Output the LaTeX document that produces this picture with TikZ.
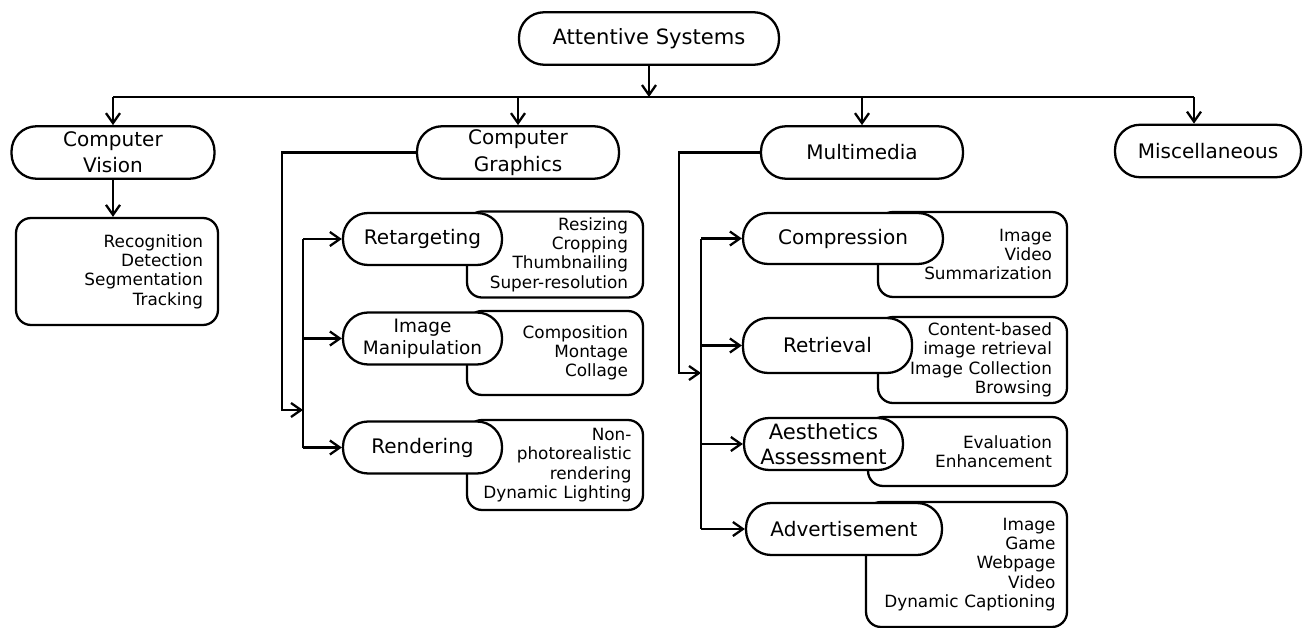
\documentclass[tikz,border=0pt]{standalone}
\usepackage{fontspec}
\setmainfont{DejaVu Sans}
\usetikzlibrary{arrows.meta}

\begin{document}
\begin{tikzpicture}[x=0.02cm, y=-0.02cm, line width=1.3pt,
    >={Straight Barb[length=2mm, width=2.8mm]},
    pill/.style={draw, fill=white, rounded corners=0.5cm, minimum height=1.05cm,
        inner sep=1pt, align=center, font=\fontsize{11.4}{14}\selectfont},
    listbox/.style={draw, rounded corners=0.3cm, inner xsep=0.3cm, text width=#1,
        align=right, font=\fontsize{9.6}{11}\selectfont}]
        \useasboundingbox (0,0) rectangle (1304,628);

        \node[pill, minimum width=5.2cm, font=\fontsize{12}{14}\selectfont] (root) at (649,38.5) {Attentive Systems};
        \node[pill, minimum width=4.06cm, font=\fontsize{11.4}{15}\selectfont] (cv) at (113,152.5) {Computer\\Vision};
        \node[pill, minimum width=4.04cm, font=\fontsize{11.4}{15}\selectfont] (cg) at (518,152.5) {Computer\\Graphics};
        \node[pill, minimum width=4.04cm] (mm) at (862,152.5) {Multimedia};
        \node[pill, minimum width=3.72cm] (misc) at (1208,151) {Miscellaneous};

        \node[listbox=3.44cm, minimum height=2.14cm] (cvlist) at (117,271.5) {Recognition\\Detection\\Segmentation\\Tracking};

        \node[listbox=2.92cm, minimum height=1.7cm] (retlist) at (555,254.5) {Resizing\\Cropping\\Thumbnailing\\Super-resolution};
        \node[listbox=2.92cm, minimum height=1.68cm] (imglist) at (555,353) {Composition\\Montage\\Collage};
        \node[listbox=3.06cm, inner xsep=0.23cm, minimum height=1.8cm] (renlist) at (555,465) {Non-\\photorealistic\\rendering\\Dynamic Lighting};
        \node[pill, minimum width=3.18cm, minimum height=1.04cm] (retarget) at (422.5,239) {Retargeting};
        \node[pill, minimum width=3.18cm, minimum height=1.04cm, font=\fontsize{10.5}{12.5}\selectfont] (imgman) at (422.5,338.5) {Image\\Manipulation};
        \node[pill, minimum width=3.18cm, minimum height=1.04cm] (render) at (422.5,447.5) {Rendering};

        \node[listbox=3.18cm, minimum height=1.7cm] (complist) at (972.5,254.5) {Image\\Video\\Summarization};
        \node[listbox=3.18cm, minimum height=1.72cm] (retrlist) at (972.5,360) {Content-based\\image retrieval\\Image Collection\\Browsing};
        \node[listbox=3.38cm, minimum height=1.38cm] (aestlist) at (967.5,451.5) {Evaluation\\Enhancement};
        \node[listbox=3.56cm, inner xsep=0.23cm, minimum height=2.5cm] (advlist) at (966.5,564.5) {Image\\Game\\Webpage\\Video\\Dynamic Captioning};
        \node[pill, minimum width=4cm, minimum height=1.02cm] (compress) at (843,238.5) {Compression};
        \node[pill, minimum width=3.38cm, minimum height=1.1cm] (retrieval) at (827.5,345.5) {Retrieval};
        \node[pill, minimum width=3.18cm, minimum height=1.04cm, font=\fontsize{12}{14}\selectfont] (aesthetic) at (823.5,444) {Aesthetics\\Assessment};
        \node[pill, minimum width=3.92cm, minimum height=1.04cm] (advert) at (844,529) {Advertisement};

        \coordinate (busL) at (113,97);
        \coordinate (busR) at (1194,97);
        \draw[->] (root) -- (root |- busL);
        \draw (busL) -- (busR);
        \draw[->] (busL) -- (cv);
        \draw[->] (busL -| cg) -- (cg);
        \draw[->] (busL -| mm) -- (mm);
        \draw[->] (busR) -- (busR |- misc.north);
        \draw[->] (cv.south) -- (cv.south |- cvlist.north);

        \coordinate (cgturn) at (282,410);
        \coordinate (cgjoin) at (303,410);
        \coordinate (cgtop) at (303,239);
        \coordinate (cgbot) at (303,447.5);
        \draw[->] (cg.west) -| (cgturn) -- (cgjoin);
        \draw (cgtop) -- (cgbot);
        \draw[->] (cgtop) -- (retarget);
        \draw[->] (cgtop |- imgman) -- (imgman);
        \draw[->] (cgbot) -- (render);

        \coordinate (mmturn) at (679,373);
        \coordinate (mmjoin) at (701,373);
        \coordinate (mmtop) at (701,238.5);
        \coordinate (mmbot) at (701,529);
        \draw[->] (mm.west) -| (mmturn) -- (mmjoin);
        \draw (mmtop) -- (mmbot);
        \draw[->] (mmtop) -- (compress);
        \draw[->] (mmtop |- retrieval) -- (retrieval);
        \draw[->] (mmtop |- aesthetic) -- (aesthetic);
        \draw[->] (mmbot) -- (advert);
    \end{tikzpicture}
\end{document}
